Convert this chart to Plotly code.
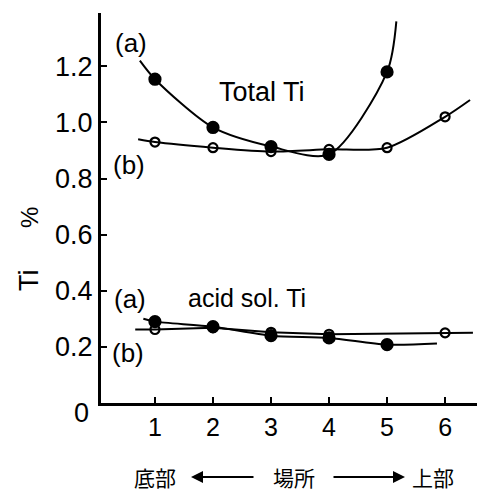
import plotly.graph_objects as go

# ---- data ----
positions = [1, 2, 3, 4, 5, 6]
x_tick_labels = ["1", "2", "3", "4", "5", "6"]
y_tick_vals = [0.2, 0.4, 0.6, 0.8, 1.0, 1.2]
y_tick_labels = ["0.2", "0.4", "0.6", "0.8", "1.0", "1.2"]

total_a_x = [1, 2, 3, 4, 5]
total_a = [1.154, 0.982, 0.914, 0.886, 1.18]
total_a_start = (0.74, 1.22)
total_a_end = (5.16, 1.36)

total_b_x = [1, 2, 3, 4, 5, 6]
total_b = [0.93, 0.91, 0.896, 0.904, 0.91, 1.02]
total_b_start = (0.71, 0.94)
total_b_end = (6.43, 1.08)

acid_a_x = [1, 2, 3, 4, 5]
acid_a = [0.29, 0.272, 0.24, 0.232, 0.208]
acid_a_start = (0.8, 0.30)
acid_a_end = (5.86, 0.212)

acid_b_x = [1, 2, 3, 4, 6]
acid_b = [0.262, 0.268, 0.252, 0.245, 0.25]
acid_b_start = (0.66, 0.262)
acid_b_end = (6.48, 0.25)

FONT = "Liberation Sans, Arial, sans-serif"
CJK = "Noto Sans CJK JP, sans-serif"

fig = go.Figure()


def add_series(xs, ys, start, end, filled, spline=True):
    cx = [start[0]] + list(xs) + [end[0]]
    cy = [start[1]] + list(ys) + [end[1]]
    fig.add_trace(go.Scatter(
        x=cx, y=cy, mode="lines",
        line=dict(color="black", width=2, shape="spline" if spline else "linear", smoothing=0.8),
        hoverinfo="skip", showlegend=False))
    fig.add_trace(go.Scatter(
        x=xs, y=ys, mode="markers",
        marker=dict(symbol="circle" if filled else "circle-open",
                    size=11 if filled else 9,
                    color="black",
                    line=dict(color="black", width=2.2)),
        showlegend=False))


add_series(total_b_x, total_b, total_b_start, total_b_end, filled=False)
add_series(total_a_x, total_a, total_a_start, total_a_end, filled=True)
add_series(acid_b_x, acid_b, acid_b_start, acid_b_end, filled=False, spline=False)
add_series(acid_a_x, acid_a, acid_a_start, acid_a_end, filled=True)

fig.update_xaxes(
    range=[0.07, 6.55], showgrid=False, zeroline=False,
    showline=True, linecolor="black", linewidth=3,
    tickmode="array", tickvals=positions, ticktext=x_tick_labels,
    ticks="inside", ticklen=6, tickwidth=2, tickcolor="black",
    tickfont=dict(family=FONT, size=25, color="black"),
)
fig.update_yaxes(
    range=[0, 1.39], showgrid=False, zeroline=False,
    showline=True, linecolor="black", linewidth=3,
    tickmode="array", tickvals=y_tick_vals, ticktext=y_tick_labels,
    ticks="inside", ticklen=6, tickwidth=2, tickcolor="black",
    tickfont=dict(family=FONT, size=27, color="black"),
)

ann = [
    dict(x=131, y=43, text="(a)", size=26),
    dict(x=262, y=92, text="Total Ti", size=27),
    dict(x=129, y=165, text="(b)", size=26),
    dict(x=130, y=299, text="(a)", size=26),
    dict(x=247, y=298, text="acid sol. Ti", size=25),
    dict(x=128, y=353, text="(b)", size=26),
    dict(x=81, y=413, text="0", size=27),
]
W, H = 490, 494
L, R, T, B = 101, 13, 13, 91
pw, ph = W - L - R, H - T - B


def px(x):
    return (x - L) / pw


def py(y):
    return (H - B - y) / ph


annotations = []
for a in ann:
    annotations.append(dict(
        x=px(a["x"]), y=py(a["y"]), xref="paper", yref="paper",
        text=a["text"], showarrow=False, xanchor="center", yanchor="middle",
        font=dict(family=FONT, size=a["size"], color="black")))

# y axis title ("Ti" and "%" are spaced apart in the original)
for yy, t, s in [(280, "Ti", 27), (218, "%", 24)]:
    annotations.append(dict(
        x=px(29), y=py(yy), xref="paper", yref="paper", text=t,
        textangle=-90, showarrow=False, xanchor="center", yanchor="middle",
        font=dict(family=FONT, size=s, color="black")))

# bottom location labels
for xx, t in [(155, "底部"), (294, "場所"), (433, "上部")]:
    annotations.append(dict(
        x=px(xx), y=py(477), xref="paper", yref="paper", text=t,
        showarrow=False, xanchor="center", yanchor="middle",
        font=dict(family=CJK, size=21, color="black")))

# arrows
annotations.append(dict(
    x=px(191), y=py(477), xref="paper", yref="paper",
    ax=64, ay=0, axref="pixel", ayref="pixel", text="",
    showarrow=True, arrowhead=2, arrowsize=1.2, arrowwidth=2, arrowcolor="black"))
annotations.append(dict(
    x=px(405), y=py(477), xref="paper", yref="paper",
    ax=-73, ay=0, axref="pixel", ayref="pixel", text="",
    showarrow=True, arrowhead=2, arrowsize=1.2, arrowwidth=2, arrowcolor="black"))

fig.update_layout(
    width=W, height=H,
    margin=dict(l=L, r=R, t=T, b=B, pad=0),
    paper_bgcolor="white", plot_bgcolor="white",
    annotations=annotations,
    showlegend=False,
)

fig.write_html("out.html", config={"displayModeBar": False},
               post_script="document.body.style.margin='0';")
